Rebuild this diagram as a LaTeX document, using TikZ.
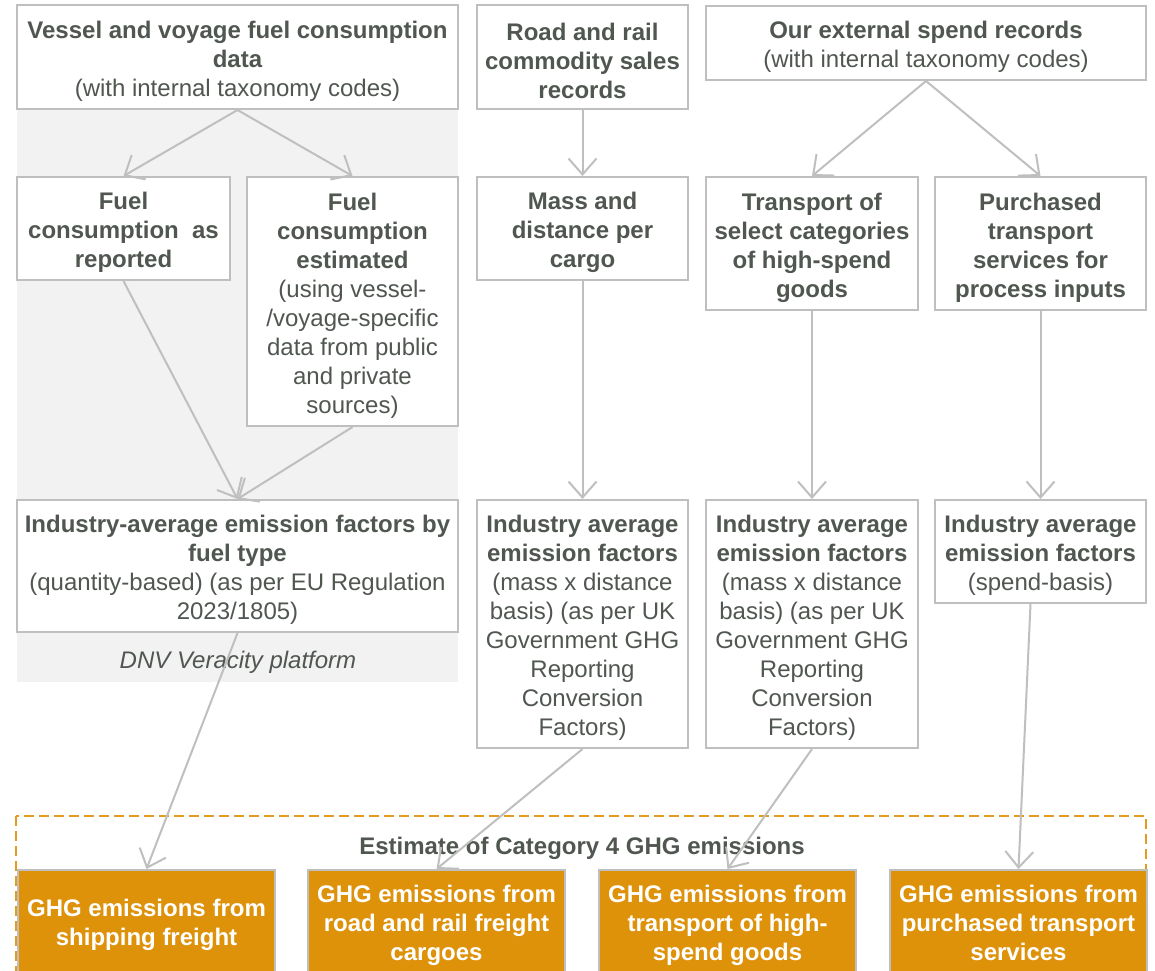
\documentclass[tikz,border=0pt]{standalone}
\usepackage{fontspec}
\setmainfont{Liberation Sans}
\usetikzlibrary{arrows.meta,calc}
\definecolor{txt}{RGB}{80,86,80}
\definecolor{bord}{RGB}{191,191,191}
\definecolor{bgg}{RGB}{242,242,242}
\definecolor{org}{RGB}{222,146,10}
\definecolor{orgd}{RGB}{228,156,32}
\newcommand\fs{\rule{0pt}{25.5pt}}
\newcommand\os{\rule{0pt}{22pt}}
\newcommand\od{\rule[-6pt]{0pt}{1pt}}
\begin{document}
\begin{tikzpicture}[x=1pt,y=-1pt,
  box/.style={draw=bord, line width=2pt, fill=white, inner sep=0pt, align=center, text=txt, font=\fontsize{24}{29}\selectfont},
  obox/.style={draw=bord, line width=2pt, fill=org, inner sep=0pt, align=center, text=white, font=\fontsize{24}{29}\selectfont\bfseries, minimum width=257pt, minimum height=106pt},
  arr/.style={draw=bord, line width=2pt, -{Straight Barb[length=16pt,width=28pt,line width=2pt]}},
  dashbox/.style={draw=orgd, line width=2pt, dash pattern=on 10pt off 5pt}]
\useasboundingbox (0,0) rectangle (1155,970);
\fill[white] (0,0) rectangle (1155,970);
% grey platform area
\fill[bgg] (17,109) rectangle (458,682);
% top row
\node[box, minimum width=441pt, minimum height=104pt] (V) at (237.5,57) {\fs\textbf{Vessel and voyage fuel consumption}\\\textbf{data}\\(with internal taxonomy codes)};
\node[box, minimum width=211pt, minimum height=104pt] (R) at (582.5,57) {\fs\textbf{Road and rail}\\\textbf{commodity sales}\\\textbf{records}};
\node[box, minimum width=440pt, minimum height=74pt] (S) at (926,43) {\fs\textbf{Our external spend records}\\(with internal taxonomy codes)};
% second row
\node[box, minimum width=213pt, minimum height=103pt] (FR) at (123.5,228.5) {\fs\textbf{Fuel}\\\textbf{consumption~~as}\\\textbf{reported}};
\node[box, minimum width=211pt, minimum height=249pt] (FE) at (352.5,301.5) {\fs\textbf{Fuel}\\\textbf{consumption}\\\textbf{estimated}\\(using vessel-\\/voyage-specific\\data from public\\and private\\sources)};
\node[box, minimum width=211pt, minimum height=103pt] (M) at (582.5,228.5) {\fs\textbf{Mass and}\\\textbf{distance per}\\\textbf{cargo}};
\node[box, minimum width=212pt, minimum height=133pt] (T) at (812,243.5) {\fs\textbf{Transport of}\\\textbf{select categories}\\\textbf{of high-spend}\\\textbf{goods}};
\node[box, minimum width=211pt, minimum height=133pt] (P) at (1040.5,243.5) {\fs\textbf{Purchased}\\\textbf{transport}\\\textbf{services for}\\\textbf{process inputs}};
% third row
\node[box, minimum width=441pt, minimum height=132pt] (IL) at (237.5,566) {\fs\textbf{Industry-average emission factors by}\\\textbf{fuel type}\\(quantity-based) (as per EU Regulation\\2023/1805)};
\node[box, minimum width=211pt, minimum height=248pt] (IM) at (582.5,624) {\fs\textbf{Industry average}\\\textbf{emission factors}\\(mass x distance\\basis) (as per UK\\Government GHG\\Reporting\\Conversion\\Factors)};
\node[box, minimum width=212pt, minimum height=248pt] (IT) at (812,624) {\fs\textbf{Industry average}\\\textbf{emission factors}\\(mass x distance\\basis) (as per UK\\Government GHG\\Reporting\\Conversion\\Factors)};
\node[box, minimum width=211pt, minimum height=103pt] (IP) at (1040.5,551.5) {\fs\textbf{Industry average}\\\textbf{emission factors}\\(spend-basis)};
\node[text=txt, inner sep=0pt, font=\fontsize{24}{29}\selectfont\itshape] (dnv) at (238,662) {DNV Veracity platform};
% estimate frame
\draw[dashbox] (16,816) rectangle (1146,1000);
\node[text=txt, inner sep=0pt, font=\fontsize{24}{29}\selectfont\bfseries] (est) at (582,848) {Estimate of Category 4 GHG emissions};
\node[obox] (O1) at (146.5,923) {\os GHG emissions from\\shipping freight\od};
\node[obox] (O2) at (436.5,923) {\os GHG emissions from\\road and rail freight\\cargoes\od};
\node[obox] (O3) at (727.5,923) {\os GHG emissions from\\transport of high-\\spend goods\od};
\node[obox] (O4) at (1018.5,923) {\os GHG emissions from\\purchased transport\\services\od};
% connectors
\draw[arr] (V.south) -- (FR.north);
\draw[arr] (V.south) -- (FE.north);
\draw[arr] (R.south) -- (M.north);
\draw[arr] (S.south) -- (T.north);
\draw[arr] (S.south) -- (P.north);
\draw[arr] (FR.south) -- (IL.north);
\draw[arr] (FE.south) -- (IL.north);
\draw[arr] (M.south) -- (IM.north);
\draw[arr] (T.south) -- (IT.north);
\draw[arr] (P.south) -- (IP.north);
\draw[arr] (IL.south) -- (O1.north);
\draw[arr] (IM.south) -- (O2.north);
\draw[arr] (IT.south) -- (O3.north);
\draw[arr] ($(IP.south)+(-10,0)$) -- (O4.north);
\end{tikzpicture}
\end{document}
